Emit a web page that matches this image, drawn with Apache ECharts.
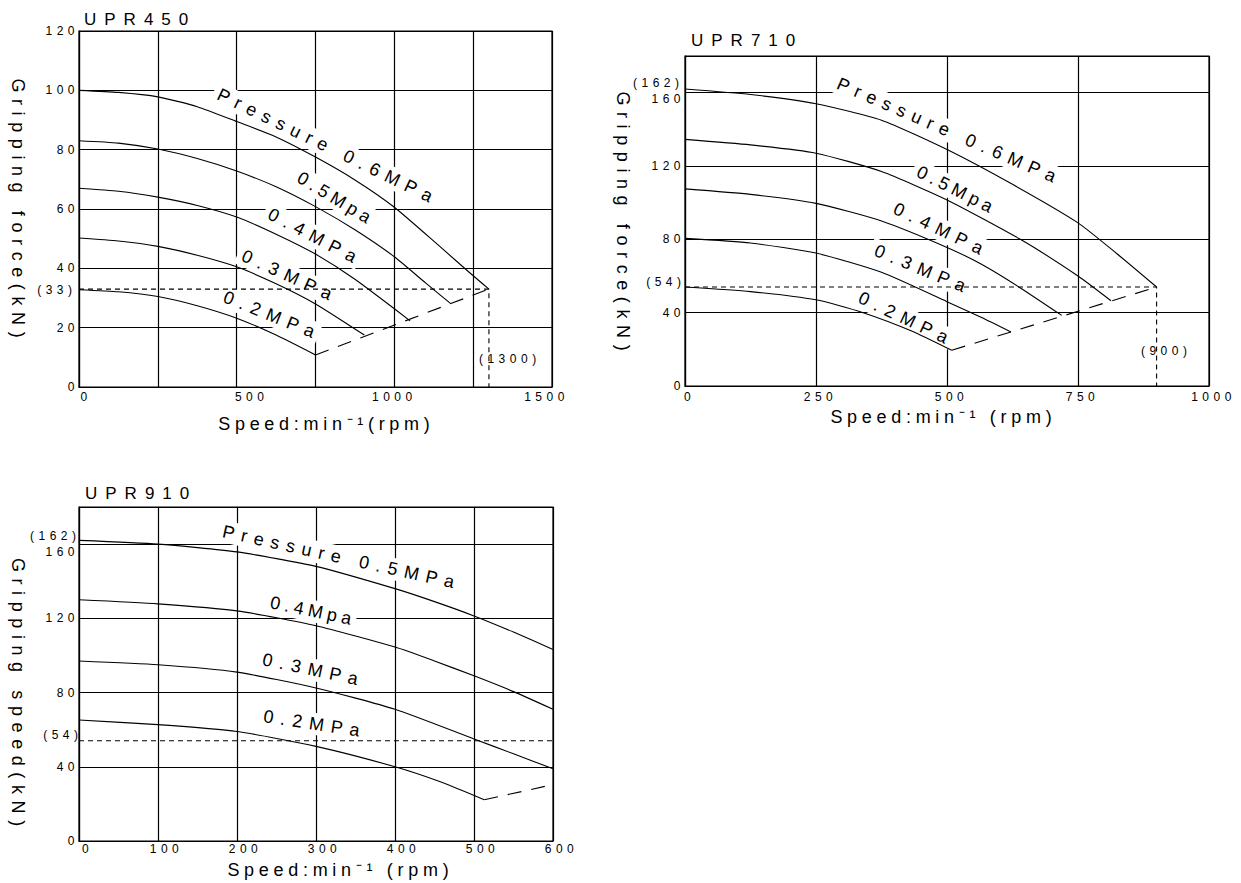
<!DOCTYPE html>
<html>
<head>
<meta charset="utf-8">
<script src="https://cdn.jsdelivr.net/npm/echarts@6/dist/echarts.min.js"></script>
<style>
html,body{margin:0;padding:0;background:#fff;}
#chart{width:1241px;height:883px;}
</style>
</head>
<body>
<div id="chart"></div>
<script>
// ---------------- DATA (speed rpm, force kN) ----------------
const TITLES = ['UPR450', 'UPR710', 'UPR910'];
const Y_NAMES = ['Gripping force(kN)', 'Gripping force(kN)', 'Gripping speed(kN)'];
const X_NAMES = ['Speed:min\u207B\u00B9(rpm)', 'Speed:min\u207B\u00B9 (rpm)', 'Speed:min\u207B\u00B9 (rpm)'];

// UPR450
const UPR450_06 = [[0,100],[125,99.3],[250,97.8],[375,94.5],[500,89.5],[625,84.3],[750,77.5],[875,69.8],[1000,60.6],[1145,47.3],[1250,37.5],[1300,33]];
const UPR450_05 = [[0,83],[125,82.2],[250,80.2],[375,77],[500,72.8],[625,67.5],[750,60.8],[875,53],[1000,43.9],[1100,35],[1178,28.2]];
const UPR450_04 = [[0,67],[125,66],[250,64],[375,61.2],[500,57.3],[625,51.5],[750,44.8],[875,36.3],[1050,22.3]];
const UPR450_03 = [[0,50.2],[125,49.2],[250,47.4],[375,44.4],[500,40.5],[625,34.8],[750,28],[905,17.5]];
const UPR450_02 = [[0,32.8],[125,32.1],[250,30.5],[375,27.4],[500,23.2],[625,17.5],[750,10.8]];
const UPR450_LIMIT = [[750,10.8],[1300,33]];
const UPR450_REF = [[0,33],[1300,33],[1300,0]];

// UPR710
const UPR710_06 = [[0,162],[125,159],[250,154],[375,145],[500,129],[625,110],[750,89],[825,72],[900,54]];
const UPR710_05 = [[0,134.5],[125,131.5],[250,127],[375,117],[500,101.5],[640,80],[750,60],[813,46.5]];
const UPR710_04 = [[0,107.5],[125,104.5],[250,99.6],[375,90],[500,75.6],[565,66.5],[640,53.5],[719,38.5]];
const UPR710_03 = [[0,80.5],[125,78],[250,72.5],[375,62],[500,46],[565,37.5],[622,29.5]];
const UPR710_02 = [[0,54],[125,51.5],[250,47],[340,40],[436,29.6],[509,19.5]];
const UPR710_LIMIT = [[509,19.5],[900,54]];
const UPR710_REF = [[0,54],[900,54],[900,0]];

// UPR910
const UPR910_05 = [[0,162],[100,160],[200,155.8],[300,148],[400,136],[450,129],[500,121.3],[550,112.6],[600,103.2]];
const UPR910_04 = [[0,130],[100,127.8],[200,124],[300,116],[400,104.5],[450,97],[500,89],[550,80.5],[600,71]];
const UPR910_03 = [[0,97],[100,95],[200,91],[300,82.5],[400,71],[500,55],[550,47],[600,38.9]];
const UPR910_02 = [[0,65.2],[100,62.7],[200,59],[300,51],[400,40],[460,31.5],[513,22.2]];
const UPR910_LIMIT = [[513,22.2],[600,30.4]];
const UPR910_REF = [[0,54],[600,54]];

// axis ranges / tick labels
const X_MAX = [1500, 1000, 600];
const X_STEP = [250, 250, 100];
const Y_MAX = [120, 180, 180];
const Y_STEP = [20, 40, 40];
const X450_LABELS = [0, 500, 1000, 1500];
const Y_HIDDEN = [180];

// curve labels
const CURVE_TEXT_450 = ['Pressure 0.6MPa', '0.5Mpa', '0.4MPa', '0.3MPa', '0.2MPa'];
const CURVE_TEXT_710 = ['Pressure 0.6MPa', '0.5Mpa', '0.4MPa', '0.3MPa', '0.2MPa'];
const CURVE_TEXT_910 = ['Pressure 0.5MPa', '0.4Mpa', '0.3MPa', '0.2MPa'];
const CURVE_AT_450 = [[780,81.5],[809,63.9],[740,51.1],[659.6,37.8],[603,24.5]];
const CURVE_AT_710 = [[499,139.6],[515,107.4],[483.5,85.9],[448.5,64.2],[416.6,37.4]];
const CURVE_AT_910 = [[328.4,153.2],[293.4,124.2],[292.8,92.6],[294.5,63.4]];
const CURVE_DEG_450 = [26, 31, 27.6, 24.4, 22];
const CURVE_DEG_710 = [23.5, 26.6, 25.6, 22.6, 25.6];
const CURVE_DEG_910 = [12.5, 11.7, 11.9, 8.7];

// ---------------- LAYOUT / STYLE ----------------
const FONT = "'Liberation Sans', Arial, sans-serif";
const GRIDS = [
  {left: 79, top: 31, width: 473, height: 356},
  {left: 685, top: 56, width: 524, height: 330},
  {left: 79, top: 507, width: 474, height: 334}
];
const FS = {title: 17, name: 18, curve: 18, tick: 12};
const LS = {title: 8, yname: 6.6, xname: 4.7, curve: 7, tick: 4.5};
function lsFor(s) {
  if (s.indexOf('UPR') === 0) return LS.title;
  if (s.indexOf('Gripping') === 0) return LS.yname;
  if (s.indexOf('Speed') === 0) return LS.xname;
  if (/Pa$/.test(s)) return LS.curve;
  return LS.tick;
}
const mctx = document.createElement('canvas').getContext('2d');
function textW(s, fs) { mctx.font = fs + 'px ' + FONT; return mctx.measureText(s).width; }

function shiftPad(dx) { return dx >= 0 ? [0, 0, 0, 2 * dx] : [0, -2 * dx, 0, 0]; }
const LBL = {color: '#000', fontSize: FS.tick, fontFamily: FONT};

function xAxis(i) {
  const base = {
    type: 'value', gridIndex: i, min: 0, max: X_MAX[i], interval: X_STEP[i],
    axisLine: {show: true, onZero: false, lineStyle: {color: '#000', width: 1.2}},
    axisTick: {show: false},
    splitLine: {show: true, lineStyle: {color: '#000', width: 1.2}},
    axisLabel: Object.assign({}, LBL, {margin: 4})
  };
  if (i === 0) {
    const shifts = {0: 7, 500: 15, 1000: 0, 1500: -5.5};
    const rich = {};
    X450_LABELS.forEach(v => { rich['s' + v] = Object.assign({}, LBL, {padding: shiftPad(shifts[v])}); });
    base.axisLabel.formatter = v => X450_LABELS.indexOf(v) >= 0 ? '{s' + v + '|' + v + '}' : '';
    base.axisLabel.rich = rich;
  } else {
    const sh = i === 1 ? 4.5 : 8.5;
    base.axisLabel.margin = i === 1 ? 5 : 2;
    base.axisLabel.formatter = v => '{s|' + v + '}';
    base.axisLabel.rich = {s: Object.assign({}, LBL, {padding: shiftPad(sh)})};
  }
  return base;
}
function yAxis(i) {
  const base = {
    type: 'value', gridIndex: i, min: 0, max: Y_MAX[i], interval: Y_STEP[i],
    axisLine: {show: true, onZero: false, lineStyle: {color: '#000', width: 1.2}},
    axisTick: {show: false},
    splitLine: {show: true, lineStyle: {color: '#000', width: 1.2}},
    axisLabel: Object.assign({}, LBL, {margin: 0})
  };
  if (i > 0) {
    base.axisLabel.formatter = v => Y_HIDDEN.indexOf(v) >= 0 ? '' : (v === 160 ? '{lo|160}' : String(v));
    base.axisLabel.rich = {lo: Object.assign({}, LBL, {padding: [i === 1 ? 13 : 15, 0, 0, 0]})};
  }
  return base;
}
function curve(data, i) {
  return {type: 'line', xAxisIndex: i, yAxisIndex: i, data: data, symbol: 'none', showSymbol: false,
    smooth: 0.2, silent: true, z: 2,
    lineStyle: {color: '#000', width: 1.1}};
}
function dashed(data, i, dash) {
  return {type: 'line', xAxisIndex: i, yAxisIndex: i, data: data, symbol: 'none', showSymbol: false,
    silent: true, z: 2, lineStyle: {color: '#000', width: 1.1, type: dash}};
}

const option = {
  backgroundColor: '#fff',
  animation: false,
  grid: GRIDS.map(g => Object.assign({show: true, borderColor: '#000', borderWidth: 1.2, backgroundColor: 'transparent'}, g)),
  xAxis: [0, 1, 2].map(xAxis),
  yAxis: [0, 1, 2].map(yAxis),
  series: [
    curve(UPR450_06, 0), curve(UPR450_05, 0), curve(UPR450_04, 0), curve(UPR450_03, 0), curve(UPR450_02, 0),
    dashed(UPR450_LIMIT, 0, [14, 10]), dashed(UPR450_REF, 0, [5, 4]),
    curve(UPR710_06, 1), curve(UPR710_05, 1), curve(UPR710_04, 1), curve(UPR710_03, 1), curve(UPR710_02, 1),
    dashed(UPR710_LIMIT, 1, [14, 10]), dashed(UPR710_REF, 1, [5, 4]),
    curve(UPR910_05, 2), curve(UPR910_04, 2), curve(UPR910_03, 2), curve(UPR910_02, 2),
    dashed(UPR910_LIMIT, 2, [14, 10]), dashed(UPR910_REF, 2, [5, 4])
  ]
};

const chart = echarts.init(document.getElementById('chart'), null, {renderer: 'svg', width: 1241, height: 883});
chart.setOption(option);

// ---------------- TEXT GRAPHICS ----------------
function gText(s, x, y, fs, align, deg, z) {
  const ls = lsFor(s);
  const off = align === 'center' ? ls / 2 : (align === 'right' ? ls : 0);
  return {
    type: 'text', x: x, y: y, rotation: -(deg || 0) * Math.PI / 180, z: z || 5, silent: true,
    style: {text: s, x: off, y: 0, font: fs + 'px ' + FONT, fontSize: fs, fontFamily: FONT, fill: '#000',
      align: align, textAlign: align, verticalAlign: 'middle', textVerticalAlign: 'middle'}
  };
}
function gBack(s, x, y, fs, deg) {
  const ls = lsFor(s);
  const w = textW(s, fs) + (s.length - 1) * ls + 10;
  const h = fs + 4;
  return {type: 'rect', x: x, y: y, rotation: -deg * Math.PI / 180, z: 1, silent: true,
    shape: {x: -w / 2, y: -h / 2, width: w, height: h}, style: {fill: '#fff'}};
}
const px = (i, pt) => chart.convertToPixel({gridIndex: i}, pt);

const graphics = [];
// titles
graphics.push(gText(TITLES[0], 84, 19, FS.title, 'left'));
graphics.push(gText(TITLES[1], 691, 40, FS.title, 'left'));
graphics.push(gText(TITLES[2], 85, 493, FS.title, 'left'));
// axis names
graphics.push(gText(X_NAMES[0], 324, 424, FS.name, 'center'));
graphics.push(gText(X_NAMES[1], 941, 417, FS.name, 'center'));
graphics.push(gText(X_NAMES[2], 338, 870, FS.name, 'center'));
graphics.push(gText(Y_NAMES[0], 18, 208, FS.name, 'center', 90));
graphics.push(gText(Y_NAMES[1], 623, 221, FS.name, 'center', 90));
graphics.push(gText(Y_NAMES[2], 18, 692, FS.name, 'center', 90));
// curve labels
[[CURVE_TEXT_450, CURVE_AT_450, CURVE_DEG_450, 0],
 [CURVE_TEXT_710, CURVE_AT_710, CURVE_DEG_710, 1],
 [CURVE_TEXT_910, CURVE_AT_910, CURVE_DEG_910, 2]].forEach(([texts, ats, degs, gi]) => {
  texts.forEach((t, k) => {
    const p = px(gi, ats[k]);
    graphics.push(gBack(t, p[0], p[1], FS.curve, degs[k]));
    graphics.push(gText(t, p[0], p[1], FS.curve, 'center', degs[k]));
  });
});
// reference value notes
function leftNote(s, gi, val, dx, dy) {
  const p = px(gi, [0, val]);
  graphics.push(gText(s, p[0] - dx, p[1] + dy, FS.tick, 'right'));
}
leftNote('(33)', 0, UPR450_REF[0][1], 7, 1);
leftNote('(162)', 1, UPR710_06[0][1], 6, -6);
leftNote('(54)', 1, UPR710_REF[0][1], 4, -5);
leftNote('(162)', 2, UPR910_05[0][1], 3, -4);
leftNote('(54)', 2, UPR910_REF[0][1], 1, -6);
(function () {
  const p1 = px(0, [UPR450_REF[1][0] + 59, 9.4]);
  graphics.push(gText('(' + UPR450_REF[1][0] + ')', p1[0], p1[1], FS.tick, 'center'));
  const p2 = px(1, [UPR710_REF[1][0] + 14, 19.1]);
  graphics.push(gText('(' + UPR710_REF[1][0] + ')', p2[0], p2[1], FS.tick, 'center'));
})();

chart.setOption({graphic: {elements: graphics}});

function applyLS() {
  document.querySelectorAll('#chart svg text').forEach(t => {
    const s = (t.textContent || '').trim();
    t.style.letterSpacing = lsFor(s) + 'px';
  });
}
applyLS();
chart.on('finished', applyLS);
setTimeout(applyLS, 50);
setTimeout(applyLS, 300);
</script>
</body>
</html>
